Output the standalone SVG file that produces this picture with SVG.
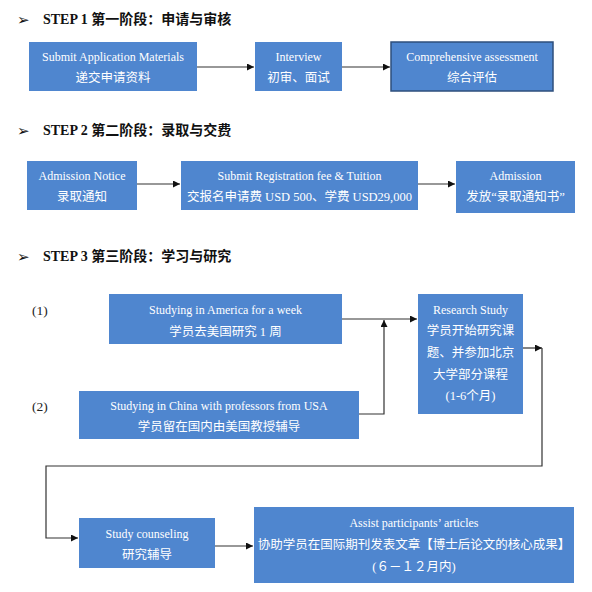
<svg xmlns="http://www.w3.org/2000/svg" width="592" height="592" viewBox="0 0 592 592">
<style>
  .box { fill: #4f86cf; }
  .box3 { fill: #4f86cf; stroke: #2e4f7c; stroke-width: 1.5; }
  .t { font-family: "Liberation Serif", "Noto Sans CJK SC", serif; fill: #ffffff; text-anchor: middle; dominant-baseline: central; }
  .en { font-size: 12px; }
  .zh { font-size: 12.5px; }
  .hd { font-family: "Liberation Serif", "Noto Sans CJK SC", serif; font-size: 14px; font-weight: bold; fill: #111; }
  .bullet { font-family: "DejaVu Sans", sans-serif; font-size: 15px; fill: #111; }
  .lbl { font-family: "Liberation Serif", serif; font-size: 13.5px; fill: #222; }
  .conn { fill: none; stroke: #333; stroke-width: 1.2; }
</style>
<defs>
  <marker id="arr" viewBox="0 0 10 10" refX="10" refY="5" markerWidth="7" markerHeight="7" markerUnits="userSpaceOnUse" orient="auto">
    <path d="M0,0 L10,5 L0,10 Z" fill="#111"/>
  </marker>
</defs>
<rect width="592" height="592" fill="#ffffff"/>

<g id="headers">
  <text class="bullet" x="17" y="25">➢</text>
  <text class="hd" x="43" y="24">STEP 1 第一阶段：申请与审核</text>
  <text class="bullet" x="17" y="136">➢</text>
  <text class="hd" x="43" y="135">STEP 2 第二阶段：录取与交费</text>
  <text class="bullet" x="17" y="262">➢</text>
  <text class="hd" x="43" y="261">STEP 3 第三阶段：学习与研究</text>
  <text class="lbl" x="32" y="315">(1)</text>
  <text class="lbl" x="32" y="411">(2)</text>
</g>

<g id="connectors">
  <path class="conn" d="M197,67 H254" marker-end="url(#arr)"/>
  <path class="conn" d="M342,67 H390" marker-end="url(#arr)"/>
  <path class="conn" d="M137,184 H180" marker-end="url(#arr)"/>
  <path class="conn" d="M418,184 H455" marker-end="url(#arr)"/>
  <path class="conn" d="M342,319 H417" marker-end="url(#arr)"/>
  <path class="conn" d="M359,414 H384 V320" marker-end="url(#arr)"/>
  <path class="conn" d="M523,348 H542" marker-end="url(#arr)"/>
  <path class="conn" d="M542,348 V466 H46 V538 H78" marker-end="url(#arr)"/>
  <path class="conn" d="M215,546 H253" marker-end="url(#arr)"/>
</g>

<g id="node-submit">
  <rect class="box" x="29" y="42" width="168" height="49"/>
  <text class="t en" x="113" y="57">Submit Application Materials</text>
  <text class="t zh" x="113" y="78">递交申请资料</text>
</g>
<g id="node-interview">
  <rect class="box" x="255" y="42" width="87" height="49"/>
  <text class="t en" x="298.5" y="57">Interview</text>
  <text class="t zh" x="298.5" y="78">初审、面试</text>
</g>
<g id="node-assessment">
  <rect class="box3" x="391" y="42" width="162" height="49"/>
  <text class="t en" x="472" y="57">Comprehensive assessment</text>
  <text class="t zh" x="472" y="78">综合评估</text>
</g>

<g id="node-notice">
  <rect class="box" x="27" y="161" width="110" height="49"/>
  <text class="t en" x="82" y="176">Admission Notice</text>
  <text class="t zh" x="82" y="197">录取通知</text>
</g>
<g id="node-fee">
  <rect class="box" x="181" y="161" width="237" height="49"/>
  <text class="t en" x="299.5" y="176">Submit Registration fee &amp; Tuition</text>
  <text class="t zh" x="299.5" y="197">交报名申请费 USD 500、学费 USD29,000</text>
</g>
<g id="node-admission">
  <rect class="box" x="456" y="161" width="119" height="52"/>
  <text class="t en" x="515.5" y="176">Admission</text>
  <text class="t zh" x="515.5" y="197">发放“录取通知书”</text>
</g>

<g id="node-america">
  <rect class="box" x="109" y="294" width="233" height="50"/>
  <text class="t en" x="225.5" y="310">Studying in America for a week</text>
  <text class="t zh" x="225.5" y="332">学员去美国研究 1 周</text>
</g>
<g id="node-china">
  <rect class="box" x="79" y="391" width="280" height="48"/>
  <text class="t en" x="219" y="406">Studying in China with professors from USA</text>
  <text class="t zh" x="219" y="427">学员留在国内由美国教授辅导</text>
</g>
<g id="node-research">
  <rect class="box" x="418" y="294" width="105" height="120"/>
  <text class="t en" x="470.5" y="310">Research Study</text>
  <text class="t zh" x="470.5" y="331">学员开始研究课</text>
  <text class="t zh" x="470.5" y="353">题、并参加北京</text>
  <text class="t zh" x="470.5" y="375">大学部分课程</text>
  <text class="t zh" x="470.5" y="396">(1-6个月)</text>
</g>

<g id="node-counseling">
  <rect class="box" x="79" y="518" width="136" height="50"/>
  <text class="t en" x="147" y="534">Study counseling</text>
  <text class="t zh" x="147" y="555">研究辅导</text>
</g>
<g id="node-articles">
  <rect class="box" x="254" y="507" width="320" height="76"/>
  <text class="t en" x="414" y="523">Assist participants’ articles</text>
  <text class="t zh" x="414" y="545">协助学员在国际期刊发表文章【博士后论文的核心成果】</text>
  <text class="t zh" x="414" y="567">(６－１２月内)</text>
</g>
</svg>
